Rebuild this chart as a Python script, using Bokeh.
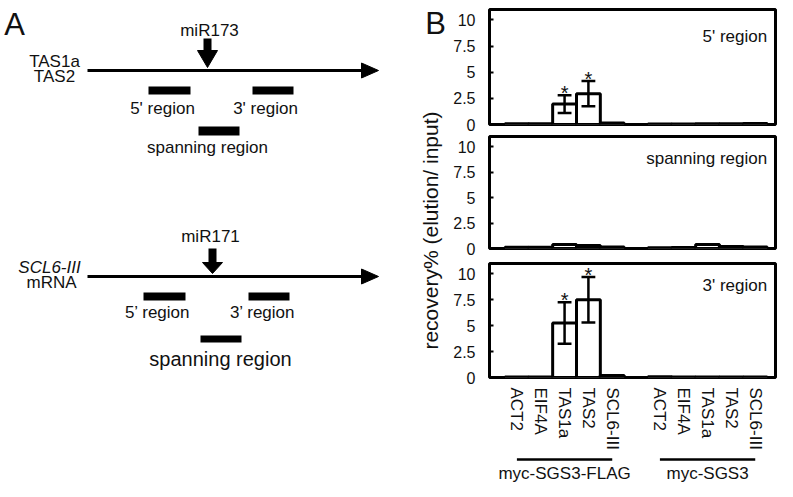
import math
from bokeh.plotting import figure
from bokeh.layouts import row, column
from bokeh.models import Range1d, FixedTicker, ColumnDataSource
from bokeh.core.properties import value
from bokeh.embed import file_html
from bokeh.resources import INLINE

FONT = "Liberation Sans"
INK = "#111111"

# ---------------- data (panel B) ----------------
genes = ["ACT2", "EIF4A", "TAS1a", "TAS2", "SCL6-III"]
groups = ["myc-SGS3-FLAG", "myc-SGS3"]
region_titles = ["5' region", "spanning region", "3' region"]
y_ticks = [0, 2.5, 5, 7.5, 10]
y_tick_labels = ["0", "2.5", "5", "7.5", "10"]

# recovery% (elution/ input): 5 genes of myc-SGS3-FLAG, then 5 genes of myc-SGS3
rec_5p = [0.08, 0.08, 1.95, 2.95, 0.15, 0.05, 0.05, 0.06, 0.06, 0.10]
err_5p = [0, 0, 0.85, 1.2, 0, 0, 0, 0, 0, 0]
sig_5p = [0, 0, 1, 1, 0, 0, 0, 0, 0, 0]

rec_span = [0.12, 0.12, 0.40, 0.30, 0.15, 0.08, 0.10, 0.40, 0.20, 0.15]
err_span = [0, 0, 0, 0, 0, 0, 0, 0, 0, 0]
sig_span = [0, 0, 0, 0, 0, 0, 0, 0, 0, 0]

rec_3p = [0.05, 0.05, 5.25, 7.5, 0.20, 0.08, 0.05, 0.05, 0.05, 0.05]
err_3p = [0, 0, 2.0, 2.2, 0, 0, 0, 0, 0, 0]
sig_3p = [0, 0, 1, 1, 0, 0, 0, 0, 0, 0]

# ---------------- panel A schematic (drawn in pixel-like coordinates) ----------------
WA, H = 447, 481
pa = figure(width=WA, height=H, x_range=Range1d(0, WA), y_range=Range1d(H, 0),
            output_backend="svg", toolbar_location=None,
            x_axis_location=None, y_axis_location=None,
            min_border_left=0, min_border_right=0, min_border_top=0, min_border_bottom=0)
pa.grid.visible = False
pa.outline_line_color = None


def txt(p, x, y, s, size, align="center", style="normal", angle=0.0):
    p.text(x=[x], y=[y], text=[s], text_font=value(FONT), text_font_size=size,
           text_align=align, text_baseline="middle", text_color=INK,
           text_font_style=style, angle=angle)


schemes = [
    dict(line_y=70, names=[("TAS1a", 54, 61, "normal"), ("TAS2", 54, 76, "normal")],
         mir="miR173", mir_xy=(209, 30), arr_x=207, stem=(38, 51), head=(50, 67),
         bars5=(148, 190, 86, 94), bars3=(252, 293, 86, 94), barsp=(198, 239, 126, 135),
         lab5=("5' region", 162, 108), lab3=("3' region", 265, 108),
         labsp=("spanning region", 207, 147, "17px")),
    dict(line_y=276, names=[("SCL6-III", 49, 267, "italic"), ("mRNA", 51, 282, "normal")],
         mir="miR171", mir_xy=(210, 236), arr_x=212, stem=(248, 263), head=(262, 273),
         bars5=(143, 185, 292, 300), bars3=(248, 289, 292, 300), barsp=(200, 241, 335, 342),
         lab5=("5\u2019 region", 157, 312), lab3=("3\u2019 region", 262, 312),
         labsp=("spanning region", 220, 358, "20px")),
]
line_x0, line_x1, tip_x, head_len, head_half = 87, 366, 378, 17, 7.5

for s in schemes:
    for name, x, y, st in s["names"]:
        txt(pa, x, y, name, "17px", style=st)
    ly = s["line_y"]
    pa.segment(x0=[line_x0], y0=[ly], x1=[line_x1], y1=[ly], line_width=3, line_color="black")
    pa.patch(x=[tip_x - head_len, tip_x, tip_x - head_len], y=[ly - head_half, ly, ly + head_half],
             fill_color="black", line_color="black")
    txt(pa, s["mir_xy"][0], s["mir_xy"][1], s["mir"], "17px")
    ax = s["arr_x"]
    pa.quad(left=[ax - 4], right=[ax + 4], top=[s["stem"][0]], bottom=[s["stem"][1]],
            fill_color="black", line_color=None)
    pa.patch(x=[ax - 10, ax + 10, ax], y=[s["head"][0], s["head"][0], s["head"][1]],
             fill_color="black", line_color="black")
    for b in (s["bars5"], s["bars3"], s["barsp"]):
        pa.quad(left=[b[0]], right=[b[1]], top=[b[2]], bottom=[b[3]],
                fill_color="black", line_color=None)
    txt(pa, s["lab5"][1], s["lab5"][2], s["lab5"][0], "17px")
    txt(pa, s["lab3"][1], s["lab3"][2], s["lab3"][0], "17px")
    txt(pa, s["labsp"][1], s["labsp"][2], s["labsp"][0], s["labsp"][3])

txt(pa, 14, 24, "A", "31px")
txt(pa, 435, 23, "B", "31px")
txt(pa, 430, 230, "recovery% (elution/ input)", "21px", angle=math.pi / 2)

# ---------------- panel B bar charts ----------------
xpos = [g * 6 + i for g in range(len(groups)) for i in range(len(genes))]
xlabels = [gname for _ in groups for gname in genes]
xr = Range1d(-1.15, 10.85)
FW = 286
BL, BR = 42, 2


def bar_panel(vals, errs, sigs, title, title_y, frame_h, top_b, bottom_b, show_x):
    p = figure(frame_width=FW, frame_height=frame_h, x_range=xr, y_range=Range1d(0, 11),
               output_backend="svg", toolbar_location=None,
               x_axis_location="below" if show_x else None, y_axis_location="left",
               min_border_left=BL, min_border_right=BR, min_border_top=top_b,
               min_border_bottom=bottom_b)
    p.grid.visible = False
    p.outline_line_color = "black"
    p.outline_line_width = 3
    ya = p.yaxis[0]
    ya.ticker = FixedTicker(ticks=y_ticks)
    ya.major_label_overrides = {t: l for t, l in zip(y_ticks, y_tick_labels)}
    ya.axis_line_color = None
    ya.major_tick_in = 4
    ya.major_tick_out = 0
    ya.major_tick_line_width = 2
    ya.minor_tick_line_color = None
    ya.major_label_standoff = 14
    ya.major_label_text_font = FONT
    ya.major_label_text_font_size = "16px"
    ya.major_label_text_color = INK
    if show_x:
        xa = p.xaxis[0]
        xa.ticker = FixedTicker(ticks=xpos)
        xa.major_label_overrides = {x: l for x, l in zip(xpos, xlabels)}
        xa.major_label_orientation = -math.pi / 2
        xa.axis_line_color = None
        xa.major_tick_in = 0
        xa.major_tick_out = 0
        xa.minor_tick_line_color = None
        xa.major_label_standoff = 10
        xa.major_label_text_font = FONT
        xa.major_label_text_font_size = "17px"
        xa.major_label_text_color = INK

    src = ColumnDataSource(dict(x=xpos, top=vals))
    p.vbar(x="x", top="top", bottom=0, width=1.0, source=src,
           fill_color="white", line_color="black", line_width=3)

    ex = [x for x, e in zip(xpos, errs) if e > 0]
    lo = [v - e for v, e in zip(vals, errs) if e > 0]
    hi = [v + e for v, e in zip(vals, errs) if e > 0]
    if ex:
        cap = 0.29
        p.segment(x0=ex, y0=lo, x1=ex, y1=hi, line_width=2.5, line_color="black")
        p.segment(x0=[x - cap for x in ex], y0=hi, x1=[x + cap for x in ex], y1=hi,
                  line_width=2.5, line_color="black")
        p.segment(x0=[x - cap for x in ex], y0=lo, x1=[x + cap for x in ex], y1=lo,
                  line_width=2.5, line_color="black")
    sx = [x for x, s in zip(xpos, sigs) if s]
    sy = [v + e + 0.2 for v, e, s in zip(vals, errs, sigs) if s]
    if sx:
        p.text(x=sx, y=sy, text=["*"] * len(sx), text_font=value(FONT), text_font_size="20px",
               text_align="center", text_baseline="middle", text_color=INK)
    p.text(x=[10.5], y=[title_y], text=[title], text_font=value(FONT), text_font_size="17px",
           text_align="right", text_baseline="middle", text_color=INK)
    return p


p1 = bar_panel(rec_5p, err_5p, sig_5p, region_titles[0], 8.42, 115, 9, 9, False)
p2 = bar_panel(rec_span, err_span, sig_span, region_titles[1], 8.84, 112, 3, 9, False)
p3 = bar_panel(rec_3p, err_3p, sig_3p, region_titles[2], 8.88, 114, 6, 74, True)

# group labels under the bottom panel (pixel-like y coordinates)
p4 = figure(frame_width=FW, frame_height=30, x_range=xr, y_range=Range1d(481, 451),
            output_backend="svg", toolbar_location=None,
            x_axis_location=None, y_axis_location=None,
            min_border_left=BL, min_border_right=BR, min_border_top=0, min_border_bottom=0)
p4.grid.visible = False
p4.outline_line_color = None
g_first = [g * 6 for g in range(len(groups))]
g_last = [g * 6 + len(genes) - 1 for g in range(len(groups))]
p4.segment(x0=g_first, x1=g_last, y0=[458] * len(groups), y1=[458] * len(groups),
           line_width=2.5, line_color="black")
p4.text(x=[(a + b) / 2 for a, b in zip(g_first, g_last)], y=[471.5] * len(groups), text=groups,
        text_font=value(FONT), text_font_size="17px", text_align="center",
        text_baseline="middle", text_color=INK)

layout = row(pa, column(p1, p2, p3, p4))
open("out.html", "w").write(file_html(layout, INLINE))
